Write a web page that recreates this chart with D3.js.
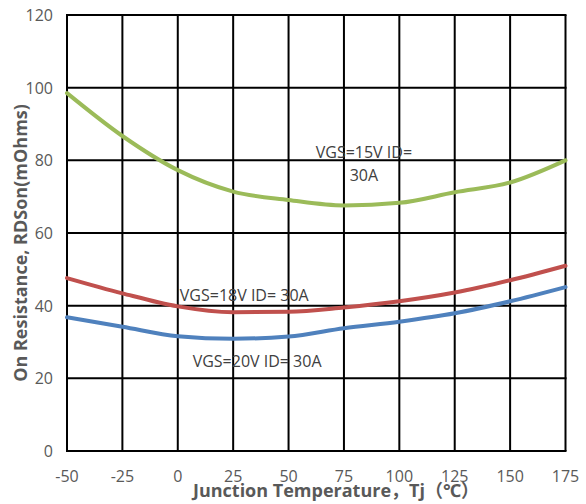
<!DOCTYPE html>
<html>
<head>
<meta charset="utf-8">
<script src="https://cdn.jsdelivr.net/npm/d3@7"></script>
<style>
  body { margin: 0; background: #fff; }
  text { font-family: "Open Sans", "Noto Sans", "Noto Sans CJK SC", sans-serif; }
</style>
</head>
<body>
<div id="chart"></div>
<script>
// temperatures (deg C)
var temps = [-50, -25, 0, 25, 50, 75, 100, 125, 150, 175];

// RDSon (mOhms)
var vgs15 = [98.5, 86.7, 77.3, 71.4, 69.1, 67.6, 68.3, 71.2, 73.9, 80.0];
var vgs18 = [47.6, 43.4, 39.8, 38.2, 38.3, 39.5, 41.2, 43.6, 47.0, 51.0];
var vgs20 = [36.8, 34.2, 31.6, 30.9, 31.5, 33.8, 35.6, 37.9, 41.2, 45.1];

var xTicks = [-50, -25, 0, 25, 50, 75, 100, 125, 150, 175];
var yTicks = [0, 20, 40, 60, 80, 100, 120];

var seriesNames = ["VGS=15V ID= 30A", "VGS=18V ID= 30A", "VGS=20V ID= 30A"];
var seriesColors = ["#9bbb59", "#c0504d", "#4f81bd"];

var margin = {top: 15, right: 20, bottom: 53, left: 67};
var width = 586 - margin.left - margin.right;
var height = 504 - margin.top - margin.bottom;

var svg = d3.select("#chart").append("svg")
    .attr("width", 586)
    .attr("height", 504);

var g = svg.append("g")
    .attr("transform", "translate(" + margin.left + "," + margin.top + ")");

var x = d3.scaleLinear().domain([-50, 175]).range([0, width - 0.5]);
var y = d3.scaleLinear().domain([0, 120]).range([height, 0]);

// grid
g.selectAll(".vgrid").data(xTicks).enter().append("line")
    .attr("class", "vgrid")
    .attr("x1", function(d) { return x(d); })
    .attr("x2", function(d) { return x(d); })
    .attr("y1", 0).attr("y2", height)
    .attr("stroke", "#000").attr("stroke-width", 2);

g.selectAll(".hgrid").data(yTicks).enter().append("line")
    .attr("class", "hgrid")
    .attr("x1", -1).attr("x2", x(175) + 1)
    .attr("y1", function(d) { return y(d); })
    .attr("y2", function(d) { return y(d); })
    .attr("stroke", "#000").attr("stroke-width", 2);

// tick labels
g.selectAll(".xlab").data(xTicks).enter().append("text")
    .attr("class", "xlab")
    .attr("x", function(d) { return x(d); })
    .attr("y", height + 31)
    .attr("text-anchor", "middle")
    .attr("font-size", 16)
    .attr("fill", "#595959")
    .text(function(d) { return d; });

g.selectAll(".ylab").data(yTicks).enter().append("text")
    .attr("class", "ylab")
    .attr("x", -14)
    .attr("y", function(d) { return y(d) + 6; })
    .attr("text-anchor", "end")
    .attr("font-size", 16)
    .attr("fill", "#595959")
    .text(function(d) { return d; });

// curves
var line = d3.line()
    .x(function(d) { return x(d[0]); })
    .y(function(d) { return y(d[1]); })
    .curve(d3.curveMonotoneX);

[vgs15, vgs18, vgs20].forEach(function(vals, i) {
    g.append("path")
        .datum(d3.zip(temps, vals))
        .attr("d", line)
        .attr("fill", "none")
        .attr("stroke", seriesColors[i])
        .attr("stroke-width", 4)
        .attr("stroke-linecap", "round");
});

// curve labels
var lab = g.append("g")
    .attr("font-size", 16)
    .attr("fill", "#404040")
    .attr("text-anchor", "middle");

lab.append("text").attr("x", x(84)).attr("y", y(80.6))
    .text("VGS=15V ID=");
lab.append("text").attr("x", x(84)).attr("y", y(74.3))
    .text("30A");
lab.append("text").attr("x", x(30)).attr("y", y(41.4))
    .text(seriesNames[1]);
lab.append("text").attr("x", x(35.8)).attr("y", y(23.2))
    .text(seriesNames[2]);

// axis titles
svg.append("text")
    .attr("x", 336)
    .attr("y", 497)
    .attr("text-anchor", "middle")
    .attr("font-size", 18)
    .attr("font-weight", "bold")
    .attr("fill", "#595959")
    .text("Junction Temperature，Tj（℃）");

svg.append("text")
    .attr("transform", "translate(27," + 243 + ") rotate(-90)")
    .attr("text-anchor", "middle")
    .attr("font-size", 18)
    .attr("font-weight", "bold")
    .attr("fill", "#595959")
    .text("On Resistance, RDSon(mOhms)");
</script>
</body>
</html>
